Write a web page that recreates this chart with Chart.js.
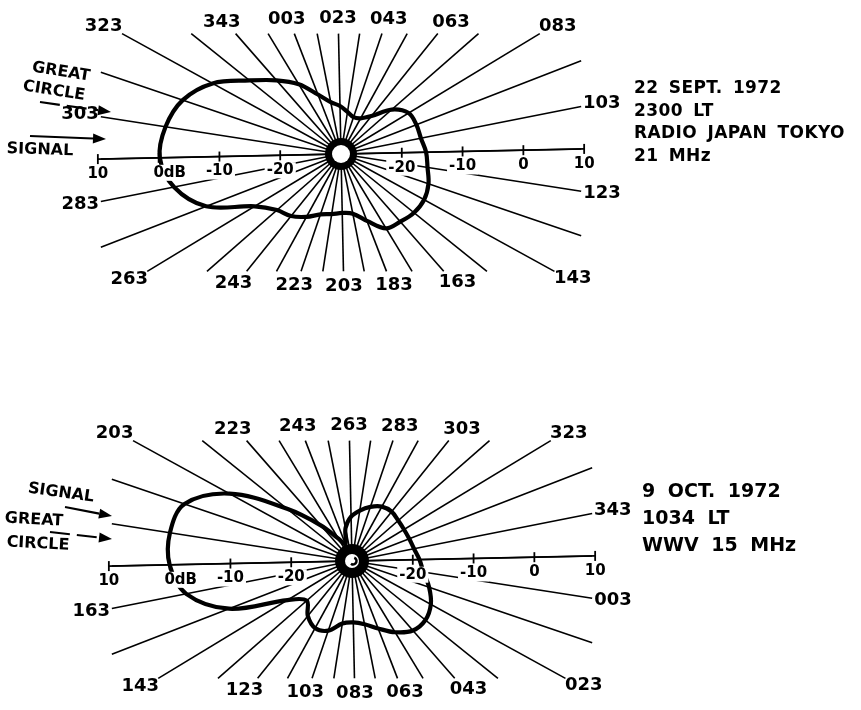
<!DOCTYPE html>
<html>
<head>
<meta charset="utf-8">
<script src="https://cdn.jsdelivr.net/npm/chart.js@4"></script>
<style>
    html, body { margin: 0; padding: 0; background: #fff; }
    body { width: 861px; height: 710px; position: relative; overflow: hidden; font-family: "DejaVu Sans", sans-serif; color: #000; }
    canvas { position: absolute; left: 0; }
    #topPlot { top: 0; }
    #bottomPlot { top: 355px; }
    .note { position: absolute; white-space: pre; font-weight: bold; }
    #topNote { left: 634px; top: 76px; font-size: 17px; line-height: 22.5px; letter-spacing: 0.4px; word-spacing: 4px; }
    #bottomNote { left: 642px; top: 477px; font-size: 19px; line-height: 27px; word-spacing: 6px; }
</style>
</head>
<body>
<canvas id="topPlot" width="861" height="355"></canvas>
<canvas id="bottomPlot" width="861" height="355"></canvas>
<div class="note" id="topNote">22 SEPT. 1972
2300 LT
RADIO JAPAN TOKYO
21 MHz</div>
<div class="note" id="bottomNote">9 OCT. 1972
1034 LT
WWV 15 MHz</div>

<script>
// Bearings of the radial lines (degrees), one every 10 degrees
const spokeAzimuths = [3, 13, 23, 33, 43, 53, 63, 73, 83, 93, 103, 113, 123, 133, 143, 153, 163, 173,
                       183, 193, 203, 213, 223, 233, 243, 253, 263, 273, 283, 293, 303, 313, 323, 333, 343, 353];

// Received level (dB) along each bearing above
const topLevelsDb = [-19.5, -21.3, -22.1, -23.0, -23.6, -23.3, -22.0, -18.9, -17.0, -16.7, -16.6, -16.0,
                     -15.6, -14.8, -14.4, -14.6, -15.2, -15.7, -18.2, -20.0, -20.3, -20.0, -19.5, -18.2,
                     -16.9, -16.0, -13.4, -6.2, -2.0, -0.2, -0.8, -2.5, -5.9, -10.7, -13.9, -16.6];
const bottomLevelsDb = [-18.1, -16.6, -15.2, -14.5, -14.8, -16.3, -18.1, -19.4, -19.9, -19.6, -17.9, -17.4,
                        -18.4, -20.1, -17.6, -8.3, -2.2, 0.0, 0.3, -0.9, -7.0, -16.3, -22.2, -25.7,
                        -27.0, -24.5, -22.7, -21.6, -20.6, -19.8, -19.6, -19.9, -20.0, -19.9, -19.6, -18.9];

// Bearing labels written at the end of the radial lines
const topSpokeLabels = ['003', '023', '043', '063', '083', '103', '123', '143', '163',
                        '183', '203', '223', '243', '263', '283', '303', '323', '343'];
const bottomSpokeLabels = ['003', '023', '043', '063', '083', '103', '123', '143', '163',
                           '203', '223', '243', '263', '283', '303', '323', '343'];

// dB scale along the horizontal axis (centre of the plot is -30 dB)
const dbTicks = [-20, -10, 0, 10];
const dbTickLabelsLeft = ['-20', '-10', '0dB', '10'];
const dbTickLabelsRight = ['-20', '-10', '0', '10'];

const FLOOR_DB = -30;
const PX_PER_DB = 6.08;
const TILT = 1.2;            // the printed figure is turned a little
const HALF_W = 39.5;         // radial lines stop on a box round the plot (dB units)
const HALF_UP = 19.8;
const HALF_DOWN = 19.3;
const LABEL_FONT = 'bold 18px "DejaVu Sans"';
const SMALL_FONT = 'bold 15px "DejaVu Sans"';
const NOTE_FONT = 'bold 16px "DejaVu Sans"';

function toXY(az, db, upAz) {
    const r = db - FLOOR_DB;
    const phi = (az - upAz - TILT) * Math.PI / 180;
    return { x: r * Math.sin(phi), y: r * Math.cos(phi) };
}

function spokeEnd(az, upAz) {
    const phi = (az - upAz - TILT) * Math.PI / 180;
    const sx = Math.sin(phi), sy = Math.cos(phi);
    const tx = Math.abs(sx) > 1e-6 ? HALF_W / Math.abs(sx) : Infinity;
    const ty = sy > 1e-6 ? HALF_UP / sy : (sy < -1e-6 ? HALF_DOWN / -sy : Infinity);
    const t = Math.min(tx, ty);
    return { x: sx * t, y: sy * t, sx: sx, sy: sy };
}

function drawArrow(ctx, x1, y1, x2, y2, dashed) {
    const a = Math.atan2(y2 - y1, x2 - x1);
    const hx = x2 - 13 * Math.cos(a), hy = y2 - 13 * Math.sin(a);
    ctx.save();
    ctx.lineWidth = 2.2;
    if (dashed) ctx.setLineDash([20, 7]);
    ctx.beginPath();
    ctx.moveTo(x1, y1);
    ctx.lineTo(hx, hy);
    ctx.stroke();
    ctx.setLineDash([]);
    ctx.beginPath();
    ctx.moveTo(x2, y2);
    ctx.lineTo(hx + 5 * Math.sin(a), hy - 5 * Math.cos(a));
    ctx.lineTo(hx - 5 * Math.sin(a), hy + 5 * Math.cos(a));
    ctx.closePath();
    ctx.fill();
    ctx.restore();
}

function drawTilted(ctx, text, x, y, deg) {
    ctx.save();
    ctx.translate(x, y);
    ctx.rotate(deg * Math.PI / 180);
    ctx.fillText(text, 0, 0);
    ctx.restore();
}

// hub, dB scale, bearing labels and the signal / great circle notes
function plotDecor(cfg) {
    return {
        id: 'plotDecor',
        afterDatasetsDraw(chart) {
            const ctx = chart.ctx;
            const xs = chart.scales.x, ys = chart.scales.y;
            const toPx = p => ({ x: xs.getPixelForValue(p.x), y: ys.getPixelForValue(p.y) });
            const c = toPx({ x: 0, y: 0 });
            ctx.save();
            ctx.fillStyle = '#000';
            ctx.strokeStyle = '#000';

            // hub
            ctx.beginPath();
            ctx.arc(c.x, c.y, cfg.hubOuter, 0, 2 * Math.PI);
            ctx.fill();
            ctx.fillStyle = '#fff';
            ctx.beginPath();
            ctx.arc(c.x, c.y, cfg.hubInner, 0, 2 * Math.PI);
            ctx.fill();
            if (cfg.hubHook) {
                ctx.lineWidth = 2.5;
                ctx.beginPath();
                ctx.arc(c.x + 1, c.y, 3.5, -1.2, 2.2);
                ctx.stroke();
            }
            ctx.fillStyle = '#000';

            // dB ticks on the horizontal axis
            ctx.font = SMALL_FONT;
            ctx.textBaseline = 'middle';
            ctx.lineWidth = 1.8;
            dbTicks.forEach((db, i) => {
                [[-90, dbTickLabelsLeft[i]], [90, dbTickLabelsRight[i]]].forEach(([off, text]) => {
                    const p = toPx(toXY(cfg.upAz + off, db, cfg.upAz));
                    ctx.beginPath();
                    ctx.moveTo(p.x, p.y - 5);
                    ctx.lineTo(p.x, p.y + 5);
                    ctx.stroke();
                    const w = ctx.measureText(text).width;
                    let left = p.x - w / 2;
                    if (text === '0dB') left = p.x - ctx.measureText('0').width / 2;
                    const ly = p.y + 15;
                    ctx.fillStyle = '#fff';
                    ctx.fillRect(left - 2, ly - 8, w + 4, 16);
                    ctx.fillStyle = '#000';
                    ctx.textAlign = 'left';
                    ctx.fillText(text, left, ly);
                });
            });

            // bearing labels
            ctx.font = LABEL_FONT;
            ctx.textAlign = 'center';
            cfg.spokeLabels.forEach(label => {
                const e = spokeEnd(parseInt(label, 10), cfg.upAz);
                const p = toPx(e);
                ctx.fillText(label, p.x + e.sx * 21, p.y - e.sy * 15);
            });

            // notes on the left
            ctx.font = NOTE_FONT;
            cfg.notes.forEach(n => {
                if (n.text) drawTilted(ctx, n.text, n.x, n.y, n.tilt || 0);
                else drawArrow(ctx, n.x1, n.y1, n.x2, n.y2, n.dashed);
            });
            ctx.restore();
        }
    };
}

function buildPlot(canvasId, cfg) {
    const canvas = document.getElementById(canvasId);
    const W = canvas.width, H = canvas.height;

    // pattern, wrapped round so the closing join is smooth
    const n = spokeAzimuths.length;
    const ring = spokeAzimuths.map((az, i) => toXY(az, cfg.levels[i], cfg.upAz));
    const patternData = [ring[n - 1]].concat(ring, [ring[0], ring[1]]);
    const lastSeg = patternData.length - 2;

    const datasets = [{
        label: 'pattern',
        data: patternData,
        showLine: true,
        borderColor: '#000',
        borderWidth: 4.2,
        borderCapStyle: 'round',
        borderJoinStyle: 'round',
        tension: 0.35,
        pointRadius: 0,
        order: 0,
        segment: {
            borderColor: s => (s.p0DataIndex === 0 || s.p0DataIndex === lastSeg) ? 'rgba(0,0,0,0)' : undefined
        }
    }, {
        label: 'axis',
        data: [toXY(cfg.upAz - 90, dbTicks[dbTicks.length - 1], cfg.upAz),
               toXY(cfg.upAz + 90, dbTicks[dbTicks.length - 1], cfg.upAz)],
        showLine: true,
        borderColor: '#000',
        borderWidth: 1.8,
        pointRadius: 0,
        order: 1
    }];

    spokeAzimuths.forEach(az => {
        const e = spokeEnd(az, cfg.upAz);
        datasets.push({
            label: 'spoke ' + az,
            data: [{ x: 0, y: 0 }, { x: e.x, y: e.y }],
            showLine: true,
            borderColor: '#000',
            borderWidth: 1.6,
            pointRadius: 0,
            order: 2
        });
    });

    return new Chart(canvas, {
        type: 'scatter',
        data: { datasets: datasets },
        options: {
            responsive: false,
            animation: false,
            events: [],
            layout: { padding: 0 },
            plugins: {
                legend: { display: false },
                tooltip: { enabled: false }
            },
            scales: {
                x: { type: 'linear', display: false, min: -cfg.cx / PX_PER_DB, max: (W - cfg.cx) / PX_PER_DB },
                y: { type: 'linear', display: false, min: -(H - cfg.cy) / PX_PER_DB, max: cfg.cy / PX_PER_DB }
            }
        },
        plugins: [plotDecor(cfg)]
    });
}

document.addEventListener('DOMContentLoaded', function() {
    // Radio Japan, 22 Sept 1972
    buildPlot('topPlot', {
        levels: topLevelsDb,
        spokeLabels: topSpokeLabels,
        upAz: 23,
        cx: 341, cy: 154,
        hubOuter: 16, hubInner: 9, hubHook: false,
        notes: [
            { text: 'GREAT', x: 61, y: 72, tilt: 9 },
            { text: 'CIRCLE', x: 54, y: 91, tilt: 9 },
            { x1: 40, y1: 102, x2: 111, y2: 112, dashed: true },
            { x1: 30, y1: 136, x2: 106, y2: 139, dashed: false },
            { text: 'SIGNAL', x: 40, y: 150, tilt: 2 }
        ]
    });

    // WWV, 9 Oct 1972
    buildPlot('bottomPlot', {
        levels: bottomLevelsDb,
        spokeLabels: bottomSpokeLabels,
        upAz: 263,
        cx: 352, cy: 206,
        hubOuter: 17, hubInner: 7, hubHook: true,
        notes: [
            { text: 'SIGNAL', x: 61, y: 138, tilt: 8 },
            { x1: 65, y1: 152, x2: 112, y2: 161, dashed: false },
            { text: 'GREAT', x: 34, y: 165, tilt: 3 },
            { x1: 50, y1: 177, x2: 112, y2: 184, dashed: true },
            { text: 'CIRCLE', x: 38, y: 189, tilt: 3 }
        ]
    });
});
</script>
</body>
</html>
